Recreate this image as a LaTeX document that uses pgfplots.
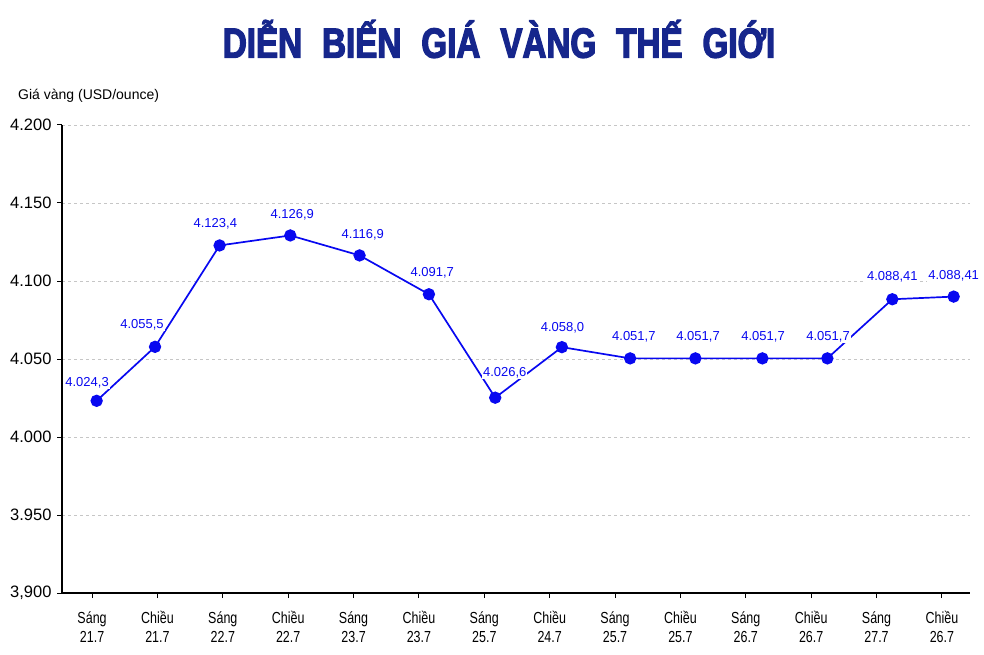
\documentclass[border=0pt]{standalone}
\usepackage{pgfplots}
\pgfplotsset{compat=1.18}
\usepackage{pgfplotstable}
\usepackage{fontspec}
\setmainfont{Liberation Sans}
\newfontfamily\titlefont[FakeStretch=0.79, FakeBold=3]{Liberation Sans Bold}
\newfontfamily\narrowfont[FakeStretch=0.78]{Liberation Sans}
\definecolor{titleblue}{RGB}{22,38,140}
\definecolor{ptblue}{RGB}{8,8,240}
\pgfplotstableread{
x y lab dx dy
0.070 4023.2 {4.024,3} -9.6 17.7
0.963 4057.8 {4.055,5} -13 22
1.951 4122.8 {4.123,4} -4.3 22
3.032 4129.2 {4.126,9} 2 21
4.092 4116.4 {4.116,9} 3.2 20.3
5.153 4091.5 {4.091,7} 3.3 21
6.167 4025.2 {4.026,6} 9.5 24.7
7.187 4057.6 {4.058,0} 0.6 19.7
8.231 4050.4 {4.051,7} 3.7 21.7
9.229 4050.4 {4.051,7} 2.7 21.7
10.254 4050.4 {4.051,7} 0.7 21.7
11.248 4050.4 {4.051,7} 0.7 21.7
12.242 4088.3 {4.088,41} 0 22
13.180 4090.0 {4.088,41} 0 21
}\gold
\begin{document}
\begin{tikzpicture}[x=1pt,y=1pt]
\useasboundingbox (0,0) rectangle (984,654);
\node[font=\titlefont\fontsize{42}{42}\selectfont, text=titleblue, inner sep=0pt] at (499,615) {DIỄN\hspace{20pt}BIẾN\hspace{20pt}GIÁ\hspace{20pt}VÀNG\hspace{20pt}THẾ\hspace{20pt}GIỚI};
\node[anchor=west, font=\fontsize{14}{14}\selectfont, inner sep=0pt] at (18,558) {Giá vàng (USD/ounce)};
\begin{axis}[
  at={(62pt,61pt)}, anchor=south west,
  scale only axis, width=908pt, height=468pt,
  xmin=-0.46, xmax=13.43, ymin=3900, ymax=4200,
  axis x line*=bottom, axis y line*=left,
  axis line style={black, line width=1.4pt},
  xtick={0,...,13},
  xticklabels={{Sáng\\21.7},{Chiều\\21.7},{Sáng\\22.7},{Chiều\\22.7},{Sáng\\23.7},{Chiều\\23.7},{Sáng\\25.7},{Chiều\\24.7},{Sáng\\25.7},{Chiều\\25.7},{Sáng\\26.7},{Chiều\\26.7},{Sáng\\27.7},{Chiều\\26.7}},
  xticklabel style={align=center, font=\narrowfont\fontsize{16}{19}\selectfont, yshift=-10pt},
  ytick={3900,3950,...,4200},
  yticklabels={{3,900},3.950,4.000,4.050,4.100,4.150,4.200},
  yticklabel style={font=\fontsize{16.5}{16.5}\selectfont, xshift=-2pt},
  tick align=outside,
  major tick length=5pt,
  tick style={black, line width=1pt},
  ymajorgrids,
  grid style={dashed, gray!45, line width=0.6pt},
  clip=false,
  visualization depends on={\thisrow{dx} \as \dx},
  visualization depends on={\thisrow{dy} \as \dy},
  nodes near coords,
  point meta=explicit symbolic,
  nodes near coords style={anchor=center, xshift=\dx pt, yshift=\dy pt, fill=white, inner sep=1pt, text=ptblue, font=\fontsize{13}{13}\selectfont},
]
\addplot[ptblue, line width=1.7pt, mark=*, mark size=5.3pt, mark options={fill=ptblue, draw=ptblue}] table[x=x, y=y, meta=lab] {\gold};
\end{axis}
\end{tikzpicture}
\end{document}
